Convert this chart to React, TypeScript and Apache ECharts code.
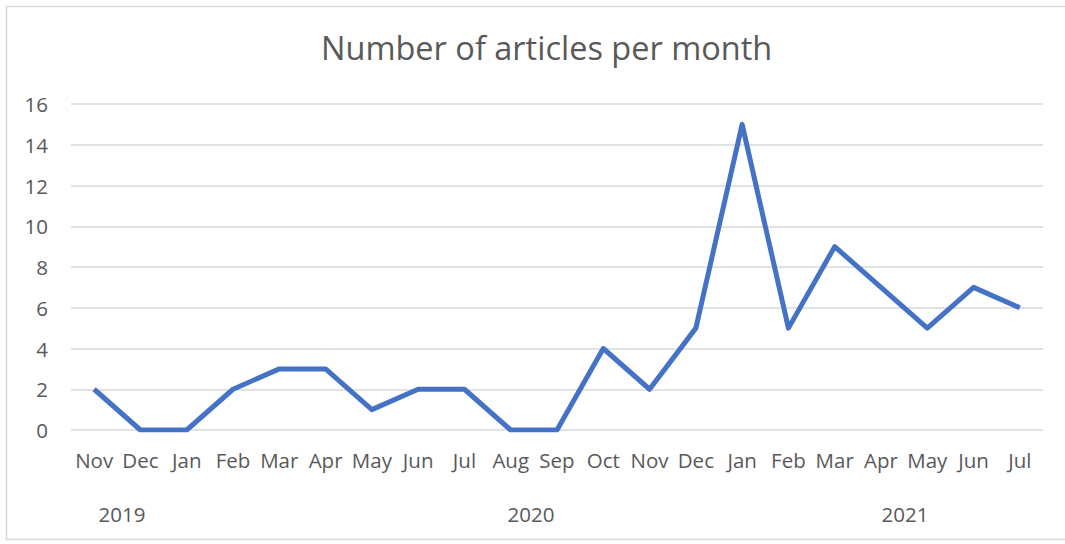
import React, { useEffect, useRef } from "react";
import * as echarts from "echarts";

const months = ["Nov", "Dec", "Jan", "Feb", "Mar", "Apr", "May", "Jun", "Jul", "Aug", "Sep", "Oct", "Nov", "Dec", "Jan", "Feb", "Mar", "Apr", "May", "Jun", "Jul"];
const articles = [2, 0, 0, 2, 3, 3, 1, 2, 2, 0, 0, 4, 2, 5, 15, 5, 9, 7, 5, 7, 6];
const years = ["2019", "2020", "2021"];
const yearX = [122, 531, 905];

const FONT = "'Open Sans', 'Noto Sans', sans-serif";
const GREY = "#595959";

export default function App() {
  const ref = useRef<HTMLDivElement>(null);
  useEffect(() => {
    document.body.style.margin = "0";
    const chart = echarts.init(ref.current!, null, { renderer: "svg" });
    chart.setOption({
      animation: false,
      backgroundColor: "#ffffff",
      title: {
        text: "Number of articles per month",
        left: 316,
        top: 26,
        textStyle: { color: GREY, fontSize: 32.5, fontWeight: "normal", fontFamily: FONT },
      },
      grid: { left: 71, right: 22, top: 104, bottom: 114 },
      xAxis: {
        type: "category",
        data: months,
        boundaryGap: true,
        axisLine: { show: false },
        axisTick: { show: false },
        axisLabel: { color: GREY, fontSize: 20.5, fontFamily: FONT, margin: 19, interval: 0 },
      },
      yAxis: {
        type: "value",
        min: 0,
        max: 16,
        interval: 2,
        axisLine: { show: false },
        axisTick: { show: false },
        axisLabel: { color: GREY, fontSize: 20.5, fontFamily: FONT, margin: 23 },
        splitLine: { lineStyle: { color: "#d9d9d9", width: 1.5 } },
      },
      series: [
        {
          type: "line",
          data: articles,
          symbol: "none",
          lineStyle: { color: "#4472C4", width: 5, join: "round" },
        },
      ],
      graphic: [
        {
          type: "rect",
          shape: { x: 6.5, y: 6.5, width: 1070, height: 533 },
          style: { fill: "none", stroke: "#d9d9d9", lineWidth: 1.5 },
          silent: true,
        },
        ...years.map((y, i) => ({
          type: "text",
          x: yearX[i],
          y: 514,
          style: {
            text: y,
            fill: GREY,
            fontSize: 20.5,
            fontFamily: FONT,
            textAlign: "center",
            textVerticalAlign: "middle",
          },
        })),
      ],
    });
    return () => chart.dispose();
  }, []);
  return <div ref={ref} style={{ width: 1065, height: 544 }} />;
}
